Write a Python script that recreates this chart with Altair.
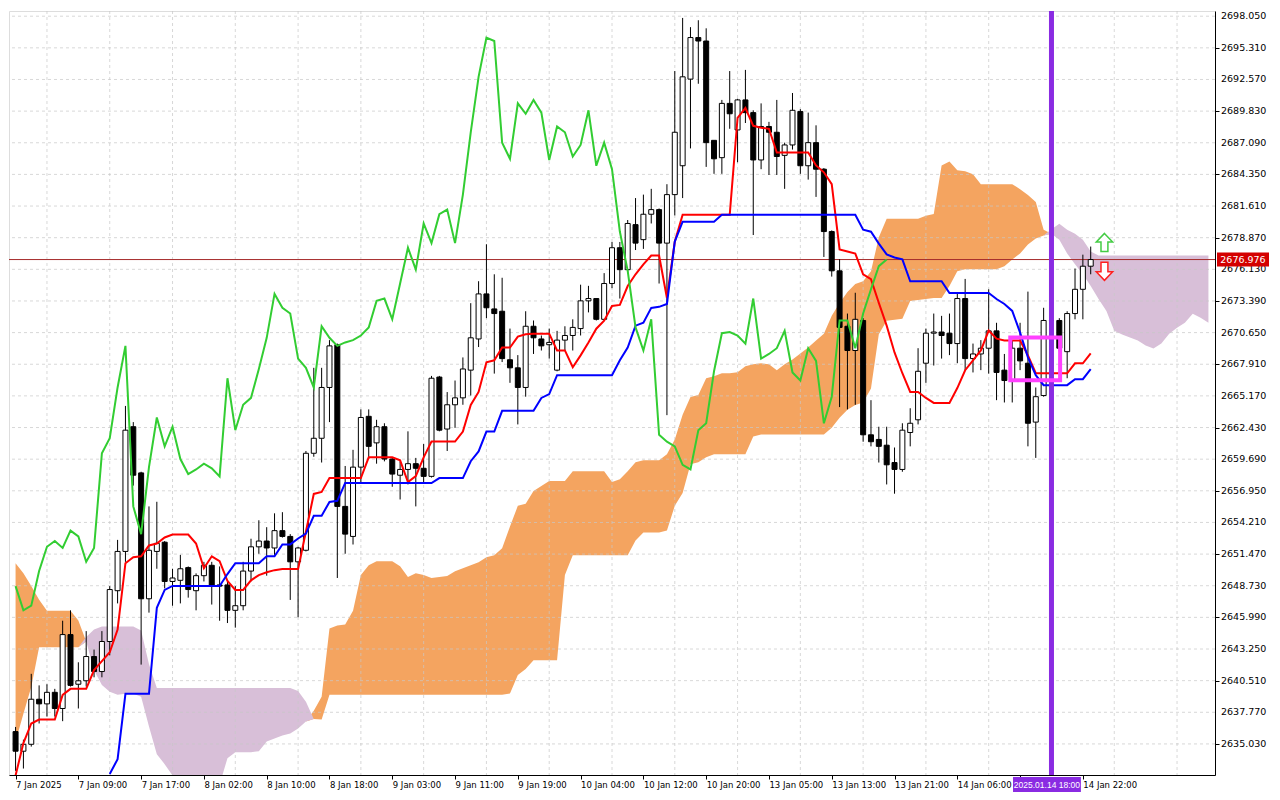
import altair as alt
import pandas as pd

# ---------------- data ----------------
OPEN = [2636.1, 2634.4, 2635.0, 2638.9, 2638.5, 2639.5, 2638.1, 2644.5, 2640.2, 2640.5,
        2642.6, 2641.3, 2643.9, 2648.3, 2651.7, 2662.5, 2658.5, 2647.6, 2651.7, 2652.5,
        2649.1, 2649.2, 2650.3, 2648.3, 2649.6, 2650.5, 2648.8, 2648.8, 2646.6, 2647.0,
        2650.0, 2652.1, 2652.6, 2652.0, 2653.5, 2653.0, 2650.8, 2651.8, 2660.2, 2661.5,
        2665.9, 2669.6, 2655.6, 2653.0, 2659.0, 2663.4, 2661.1, 2662.5, 2659.7, 2658.3,
        2658.8, 2659.3, 2658.9, 2658.2, 2666.8, 2662.3, 2664.4, 2665.0, 2667.4, 2670.1,
        2674.0, 2672.7, 2672.5, 2668.3, 2667.6, 2665.9, 2671.2, 2670.1, 2669.6, 2667.4,
        2670.0, 2670.4, 2671.0, 2673.4, 2673.6, 2671.8, 2674.9, 2678.0, 2676.1, 2680.0,
        2678.7, 2680.9, 2681.3, 2678.4, 2682.6, 2685.1, 2692.6, 2696.2, 2695.9, 2687.3,
        2685.8, 2690.5, 2688.2, 2690.8, 2689.7, 2685.6, 2688.5, 2688.0, 2686.0, 2686.9,
        2689.8, 2685.1, 2687.1, 2684.8, 2679.4, 2676.0, 2671.2, 2669.1, 2671.7, 2661.8,
        2661.4, 2660.9, 2659.4, 2658.8, 2662.0, 2663.1, 2668.0, 2670.6, 2670.7, 2670.6,
        2669.7, 2673.6, 2668.4, 2668.8, 2669.3, 2670.8, 2667.4, 2666.5, 2669.3, 2668.0,
        2662.9, 2665.2, 2671.7, 2671.7, 2669.0, 2672.3, 2674.4, 2676.4]
HIGH = [2636.5, 2635.4, 2641.1, 2640.1, 2640.2, 2639.8, 2645.7, 2646.6, 2642.1, 2644.8,
        2643.2, 2644.8, 2648.7, 2652.7, 2664.3, 2662.9, 2658.6, 2655.6, 2656.0, 2652.6,
        2650.2, 2651.4, 2650.4, 2649.8, 2650.8, 2650.8, 2650.4, 2649.1, 2648.7, 2650.8,
        2652.8, 2654.4, 2653.8, 2655.0, 2655.1, 2653.2, 2652.1, 2660.4, 2667.6, 2667.6,
        2670.0, 2669.7, 2659.1, 2660.5, 2664.0, 2664.0, 2663.1, 2662.8, 2659.8, 2659.5,
        2662.1, 2659.8, 2661.0, 2666.9, 2666.9, 2665.5, 2666.5, 2668.5, 2673.2, 2675.1,
        2678.3, 2675.7, 2675.4, 2671.0, 2668.7, 2672.5, 2671.7, 2670.4, 2671.0, 2670.8,
        2671.2, 2671.8, 2674.8, 2674.7, 2673.6, 2675.8, 2678.5, 2678.5, 2680.4, 2682.3,
        2682.6, 2683.1, 2681.4, 2683.5, 2693.3, 2697.9, 2697.1, 2697.7, 2697.0, 2687.3,
        2690.8, 2693.3, 2690.9, 2693.4, 2689.9, 2690.5, 2688.9, 2690.8, 2687.1, 2691.4,
        2690.0, 2689.7, 2688.6, 2684.9, 2679.5, 2677.0, 2672.3, 2674.1, 2671.9, 2664.8,
        2662.5, 2662.5, 2660.7, 2662.8, 2664.1, 2669.3, 2671.0, 2672.3, 2672.1, 2672.3,
        2674.1, 2675.3, 2669.7, 2670.0, 2674.4, 2671.5, 2668.8, 2670.0, 2671.5, 2674.2,
        2665.9, 2672.8, 2672.6, 2671.9, 2672.5, 2676.2, 2677.4, 2678.1]
LOW = [2632.7, 2632.9, 2634.8, 2636.8, 2637.4, 2637.4, 2637.0, 2640.0, 2638.1, 2640.0,
       2640.8, 2640.8, 2642.7, 2647.2, 2650.8, 2657.4, 2641.9, 2646.4, 2650.2, 2648.5,
       2647.0, 2647.2, 2647.7, 2646.6, 2649.1, 2647.1, 2645.7, 2645.5, 2645.1, 2646.6,
       2649.1, 2651.5, 2649.6, 2651.4, 2652.9, 2647.5, 2646.0, 2651.7, 2659.9, 2659.4,
       2662.9, 2649.4, 2651.5, 2652.3, 2657.7, 2659.7, 2659.3, 2659.5, 2657.3, 2656.2,
       2657.5, 2655.6, 2657.7, 2658.1, 2662.1, 2660.4, 2662.4, 2664.4, 2665.2, 2669.4,
       2671.9, 2667.1, 2668.1, 2666.3, 2662.7, 2665.1, 2668.8, 2669.1, 2668.4, 2667.3,
       2669.1, 2669.1, 2670.4, 2672.4, 2671.7, 2671.7, 2674.5, 2673.6, 2675.8, 2677.8,
       2677.9, 2680.1, 2674.9, 2663.5, 2680.8, 2682.3, 2686.6, 2692.2, 2685.0, 2684.4,
       2684.4, 2688.3, 2685.4, 2688.8, 2679.1, 2684.8, 2684.3, 2684.3, 2683.1, 2686.5,
       2684.4, 2683.9, 2682.4, 2677.2, 2675.5, 2664.2, 2664.0, 2664.4, 2661.2, 2660.8,
       2659.4, 2657.5, 2656.7, 2658.6, 2660.8, 2662.7, 2666.3, 2667.8, 2668.4, 2668.7,
       2668.0, 2667.4, 2667.2, 2667.4, 2667.1, 2664.8, 2664.6, 2664.6, 2667.4, 2660.8,
       2659.8, 2665.1, 2670.4, 2669.0, 2666.7, 2671.8, 2671.8, 2675.7]
CLOSE = [2634.4, 2635.0, 2638.9, 2638.5, 2639.5, 2638.1, 2644.5, 2640.1, 2640.5, 2642.6,
         2641.3, 2643.9, 2648.4, 2651.7, 2662.2, 2658.3, 2647.6, 2651.8, 2652.4, 2649.1,
         2649.4, 2650.2, 2648.4, 2649.6, 2650.5, 2648.7, 2648.7, 2646.6, 2647.0, 2650.0,
         2652.1, 2652.6, 2652.0, 2653.5, 2653.0, 2650.8, 2652.0, 2660.2, 2661.5, 2665.9,
         2669.5, 2655.6, 2653.2, 2659.0, 2663.3, 2660.8, 2662.5, 2659.7, 2658.4, 2658.8,
         2659.3, 2658.9, 2658.2, 2666.7, 2662.2, 2664.4, 2665.0, 2667.5, 2670.2, 2674.0,
         2672.8, 2672.3, 2668.4, 2667.6, 2665.9, 2671.2, 2670.2, 2669.5, 2669.8, 2670.0,
         2670.4, 2671.1, 2673.4, 2673.6, 2671.8, 2674.9, 2678.0, 2676.1, 2680.1, 2678.4,
         2680.9, 2681.3, 2678.4, 2682.6, 2688.0, 2692.8, 2696.2, 2695.9, 2687.1, 2685.7,
         2690.5, 2689.6, 2690.8, 2689.7, 2685.6, 2688.5, 2688.0, 2685.9, 2686.9, 2689.9,
         2685.1, 2687.1, 2684.8, 2679.4, 2676.0, 2671.1, 2669.1, 2671.8, 2661.8, 2661.2,
         2660.8, 2659.2, 2658.8, 2662.2, 2662.8, 2667.3, 2670.6, 2670.7, 2670.4, 2669.7,
         2673.6, 2668.4, 2668.8, 2669.3, 2670.8, 2667.2, 2666.5, 2669.3, 2668.2, 2662.8,
         2665.1, 2671.7, 2671.7, 2669.3, 2672.3, 2674.4, 2676.4, 2676.976]

TENKAN = [2632.3, 2635.1, 2636.8, 2637.14, 2637.14, 2637.14, 2639.28, 2639.8, 2639.8, 2639.8,
          2641.42, 2642.2, 2642.97, 2644.94, 2650.68, 2651.19, 2651.28, 2652.22, 2652.39, 2652.91,
          2653.16, 2653.16, 2653.16, 2652.39, 2650.25, 2651.28, 2650.85, 2649.14, 2648.37, 2648.37,
          2649.2, 2649.65, 2649.9, 2650.08, 2650.17, 2650.17, 2650.17, 2653.42, 2656.68, 2656.85,
          2658.05, 2658.05, 2658.05, 2658.05, 2658.05, 2659.85, 2659.85, 2659.85, 2659.85, 2659.59,
          2657.71, 2658.22, 2659.85, 2661.22, 2661.22, 2661.22, 2661.22, 2662.08, 2664.39, 2665.51,
          2668.08, 2668.25, 2669.36, 2669.36, 2670.3, 2670.5, 2670.56, 2670.56, 2670.56, 2669.11,
          2669.11, 2667.65, 2668.68, 2669.79, 2670.99, 2671.68, 2672.96, 2673.05, 2674.68, 2675.7,
          2676.56, 2677.33, 2677.33, 2673.65, 2678.53, 2680.85, 2680.85, 2680.85, 2680.85, 2680.85,
          2680.85, 2680.85, 2689.24, 2690.1, 2688.56, 2688.39, 2688.3, 2686.25, 2686.25, 2686.25,
          2686.25, 2686.25, 2685.13, 2684.53, 2683.5, 2677.85, 2677.68, 2677.5, 2675.7, 2675.27,
          2673.22, 2671.25, 2668.93, 2667.13, 2665.51, 2665.51, 2664.99, 2664.56, 2664.56, 2664.56,
          2665.85, 2667.39, 2668.25, 2669.11, 2670.82, 2670.13, 2669.96, 2669.96, 2669.96, 2668.68,
          2667.13, 2667.13, 2667.13, 2667.13, 2667.13, 2667.99, 2667.99, 2668.85]
KIJUN = [None, None, None, None, None, None, None, None, None, None,
         None, None, 2632.43, 2633.71, 2639.37, 2639.37, 2639.37, 2639.37, 2646.82, 2648.37,
         2648.71, 2648.71, 2648.71, 2648.71, 2648.71, 2648.71, 2648.71, 2649.74, 2650.68, 2650.68,
         2650.68, 2650.68, 2651.28, 2651.28, 2652.31, 2652.31, 2652.82, 2653.25, 2654.79, 2654.79,
         2655.99, 2656.08, 2657.62, 2657.62, 2657.62, 2657.62, 2657.62, 2657.62, 2657.62, 2657.62,
         2657.62, 2657.62, 2657.62, 2657.62, 2658.05, 2658.05, 2658.05, 2658.05, 2659.51, 2660.36,
         2662.08, 2662.08, 2663.88, 2663.88, 2663.88, 2663.88, 2663.88, 2664.99, 2665.33, 2666.96,
         2666.96, 2666.96, 2666.96, 2666.96, 2666.96, 2666.96, 2666.96, 2668.25, 2669.36, 2671.25,
         2671.51, 2672.79, 2672.88, 2673.13, 2678.53, 2680.25, 2680.25, 2680.25, 2680.25, 2680.25,
         2680.85, 2680.85, 2680.85, 2680.85, 2680.85, 2680.85, 2680.85, 2680.85, 2680.85, 2680.85,
         2680.85, 2680.85, 2680.85, 2680.85, 2680.85, 2680.85, 2680.85, 2680.85, 2679.56, 2679.39,
         2678.36, 2677.42, 2677.16, 2676.99, 2675.1, 2675.1, 2675.1, 2675.1, 2675.1, 2674.08,
         2674.08, 2674.08, 2674.08, 2674.08, 2674.08, 2673.56, 2673.13, 2672.53, 2670.65, 2668.51,
         2666.96, 2666.1, 2666.1, 2666.1, 2666.1, 2666.62, 2666.62, 2667.48]

SENKOU_A = [2650.68, 2649.82, 2648.71, 2647.51, 2646.57, 2646.57, 2646.57, 2646.57, 2645.71, 2643.9,
            2641.42, 2640.14, 2639.54, 2639.28, 2639.37, 2639.37, 2639.11, 2636.54, 2634.14, 2633.28,
            2632.3, 2631.5, 2631.5, 2631.5, 2631.5, 2631.5, 2631.5, 2633.8, 2634.31, 2634.31,
            2634.31, 2634.4, 2635.25, 2635.51, 2635.77, 2635.94, 2636.37, 2636.97, 2637.9, 2639.11,
            2645.02, 2645.28, 2645.37, 2646.57, 2649.65, 2650.51, 2650.85, 2650.85, 2650.85, 2650.42,
            2649.48, 2649.82, 2649.65, 2649.39, 2649.48, 2649.57, 2649.99, 2650.25, 2650.51, 2650.77,
            2651.19, 2651.36, 2651.97, 2653.85, 2655.65, 2655.82, 2656.94, 2657.36, 2657.79, 2657.79,
            2657.79, 2658.65, 2658.65, 2658.65, 2658.65, 2658.65, 2657.71, 2657.96, 2658.65, 2659.42,
            2659.59, 2659.59, 2659.59, 2660.11, 2661.39, 2663.53, 2665.08, 2665.25, 2666.7, 2666.88,
            2667.13, 2667.13, 2667.22, 2667.73, 2667.91, 2667.99, 2667.91, 2667.39, 2667.91, 2668.33,
            2668.85, 2669.36, 2669.96, 2670.56, 2672.11, 2673.22, 2674.16, 2674.85, 2675.1, 2675.96,
            2678.9, 2680.5, 2680.5, 2680.5, 2680.5, 2680.5, 2680.76, 2680.93, 2685.13, 2685.47,
            2684.7, 2684.62, 2684.36, 2683.5, 2683.5, 2683.5, 2683.5, 2683.5, 2683.07, 2682.56,
            2681.96, 2679.56, 2679.2, 2678.7, 2677.5, 2676.56, 2675.7, 2674.68, 2673.56, 2672.53,
            2670.82, 2670.48, 2670.22, 2669.96, 2669.53, 2669.28, 2669.7, 2670.56, 2671.08, 2671.51,
            2672.28, 2671.93, 2671.51]
SENKOU_B = [2635.25, 2637.65, 2639.97, 2643.4, 2643.4, 2643.4, 2643.4, 2643.4, 2643.4, 2644.3,
            2644.94, 2645.19, 2645.19, 2645.19, 2645.19, 2645.19, 2644.85, 2641.94, 2639.88, 2639.88,
            2639.88, 2639.88, 2639.88, 2639.88, 2639.88, 2639.88, 2639.88, 2639.88, 2639.88, 2639.88,
            2639.88, 2639.88, 2639.88, 2639.88, 2639.88, 2639.88, 2639.62, 2638.68, 2637.2, 2637.14,
            2639.28, 2639.28, 2639.28, 2639.28, 2639.28, 2639.28, 2639.28, 2639.28, 2639.28, 2639.28,
            2639.28, 2639.28, 2639.28, 2639.28, 2639.28, 2639.28, 2639.28, 2639.28, 2639.28, 2639.28,
            2639.28, 2639.28, 2639.28, 2639.4, 2641.0, 2641.51, 2642.28, 2642.28, 2642.28, 2642.28,
            2649.65, 2651.36, 2651.36, 2651.36, 2651.36, 2651.36, 2651.36, 2651.36, 2651.36, 2652.65,
            2653.34, 2653.34, 2653.34, 2653.51, 2655.65, 2656.77, 2659.25, 2659.42, 2659.85, 2660.11,
            2660.11, 2660.11, 2660.11, 2660.11, 2661.65, 2661.82, 2661.82, 2661.82, 2661.82, 2661.82,
            2661.82, 2661.82, 2661.82, 2661.82, 2662.42, 2663.28, 2663.96, 2664.39, 2664.6, 2665.8,
            2670.5, 2671.68, 2671.76, 2671.85, 2673.39, 2673.48, 2673.56, 2673.65, 2673.65, 2674.68,
            2675.96, 2676.13, 2676.13, 2676.13, 2676.13, 2676.13, 2676.39, 2676.99, 2677.5, 2678.28,
            2678.79, 2679.05, 2679.6, 2680.07, 2679.56, 2679.22, 2678.7, 2677.68, 2677.33, 2677.33,
            2677.33, 2677.33, 2677.33, 2677.33, 2677.33, 2677.33, 2677.33, 2677.33, 2677.33, 2677.33,
            2677.33, 2677.33, 2677.33]

CHIKOU_SHIFT = 26

X_TICK_BARS = [0, 8, 16, 24, 32, 40, 48, 56, 64, 72, 80, 88, 96, 104, 112, 120, 128, 136]
X_TICK_LABELS = ["7 Jan 2025", "7 Jan 09:00", "7 Jan 17:00", "8 Jan 02:00", "8 Jan 10:00",
                 "8 Jan 18:00", "9 Jan 03:00", "9 Jan 11:00", "9 Jan 19:00", "10 Jan 04:00",
                 "10 Jan 12:00", "10 Jan 20:00", "13 Jan 05:00", "13 Jan 13:00", "13 Jan 21:00",
                 "14 Jan 06:00", "", "14 Jan 22:00"]
GRID_BARS = [4, 12, 20, 28, 36, 44, 52, 60, 68, 76, 84, 92, 100, 108, 116, 124, 132, 140, 148]
Y_TICKS = [2635.03, 2637.77, 2640.51, 2643.25, 2645.99, 2648.73, 2651.47, 2654.21, 2656.95,
           2659.69, 2662.43, 2665.17, 2667.91, 2670.65, 2673.39, 2676.13, 2678.87, 2681.61,
           2684.35, 2687.09, 2689.83, 2692.57, 2695.31, 2698.05]

LAST_PRICE = 2676.976
LAST_PRICE_TEXT = "2676.976"
MARKER_BAR = 132
MARKER_LABEL = "2025.01.14 18:00"
MARKER_LABEL_BARS = [127.1, 135.75, 131.42]
BOX_BARS = [126.75, 133.1]
BOX_PRICES = [2670.22, 2666.53]
ARROW_BAR = 138.75
ARROW_UP_PRICE = 2678.45
ARROW_DOWN_PRICE = 2675.96

X_DOMAIN = [-0.2, 152.2]
Y_DOMAIN = [2632.34, 2698.5]

# ---------------- layout / styles ----------------
W, H = 1206, 764
FONT = "DejaVu Sans"
FS_X = 8.5
FS_Y = 9.5
ORANGE = "#F4A460"
THISTLE = "#D8BFD8"
UP_PATH = "M0,-1L0.9,-0.05L0.38,-0.05L0.38,1L-0.38,1L-0.38,-0.05L-0.9,-0.05Z"
DN_PATH = "M0,1L0.9,0.05L0.38,0.05L0.38,-1L-0.38,-1L-0.38,0.05L-0.9,0.05Z"

n = len(CLOSE)
candles = pd.DataFrame({"bar": list(range(n)), "open": OPEN, "high": HIGH, "low": LOW,
                        "close": CLOSE, "tenkan": TENKAN, "kijun": KIJUN})
cloud = pd.DataFrame({"bar": list(range(len(SENKOU_A))), "a": SENKOU_A, "b": SENKOU_B})
chikou = pd.DataFrame({"bar": [i - CHIKOU_SHIFT for i in range(CHIKOU_SHIFT, n)],
                       "price": CLOSE[CHIKOU_SHIFT:]})
grid_x = pd.DataFrame({"g": GRID_BARS})
grid_y = pd.DataFrame({"g": Y_TICKS})
one = pd.DataFrame({"k": [0]})

xs = alt.Scale(domain=X_DOMAIN, nice=False, zero=False)
ys = alt.Scale(domain=Y_DOMAIN, nice=False, zero=False)


def X(field):
    return alt.X(field, type="quantitative", scale=xs, title=None)


def Y(field):
    return alt.Y(field, type="quantitative", scale=ys, title=None)


label_expr = ("[" + ",".join("'" + s + "'" for s in X_TICK_LABELS) + "][indexof(["
              + ",".join(str(v) for v in X_TICK_BARS) + "], datum.value)]")

x_axis = alt.Axis(values=X_TICK_BARS, labelExpr=label_expr, grid=False, title=None,
                  tickSize=4, tickColor="black", domainColor="black", labelAlign="left",
                  labelPadding=1, labelFont=FONT, labelFontSize=FS_X, labelColor="black",
                  labelOverlap=False, labelFlush=False, labelBound=False, orient="bottom")
y_axis = alt.Axis(values=Y_TICKS, labels=False, grid=False, title=None, orient="right",
                  tickSize=4, tickColor="black", domainColor="black")

bodies = alt.Chart(candles).mark_bar(size=5, stroke="black", strokeWidth=1, clip=True).encode(
    x=alt.X("bar:Q", scale=xs, axis=x_axis),
    y=alt.Y("open:Q", scale=ys, axis=y_axis),
    y2="close:Q",
    fill=alt.condition("datum.close >= datum.open", alt.value("white"), alt.value("black")),
)

cloud_base = alt.Chart(cloud).transform_calculate(lo="min(datum.a, datum.b)")
cloud_orange = cloud_base.mark_area(color=ORANGE, opacity=1, clip=True).encode(
    x=X("bar"), y=Y("a"), y2="lo:Q")
cloud_thistle = cloud_base.mark_area(color=THISTLE, opacity=1, clip=True).encode(
    x=X("bar"), y=Y("b"), y2="lo:Q")

vgrid = alt.Chart(grid_x).mark_rule(color="#C8C8C8", strokeDash=[3, 3], strokeWidth=1,
                                    opacity=0.7).encode(x=X("g"))
hgrid = alt.Chart(grid_y).mark_rule(color="#C8C8C8", strokeDash=[3, 3], strokeWidth=1,
                                    opacity=0.7).encode(y=Y("g"))
y_labels = alt.Chart(grid_y).mark_text(align="left", baseline="middle", font=FONT,
                                       fontSize=FS_Y, color="black").encode(
    y=Y("g"), x=alt.value(W + 6), text=alt.Text("g:Q", format=".3f"))

price_line = alt.Chart(one).mark_rule(color="#A52A2A", strokeWidth=1).encode(
    y=alt.datum(LAST_PRICE, scale=ys, title=None))

wicks = alt.Chart(candles).mark_rule(color="black", strokeWidth=1, clip=True).encode(
    x=X("bar"), y=Y("low"), y2="high:Q")

tenkan = alt.Chart(candles).mark_line(color="#FF0000", strokeWidth=2, clip=True).encode(
    x=X("bar"), y=Y("tenkan"))
kijun = alt.Chart(candles).transform_filter("isValid(datum.kijun)").mark_line(
    color="#0000FF", strokeWidth=2, clip=True).encode(x=X("bar"), y=Y("kijun"))
chikou_line = alt.Chart(chikou).mark_line(color="#32CD32", strokeWidth=2, clip=True).encode(
    x=X("bar"), y=Y("price"))

vline = alt.Chart(one).mark_rule(color="#8A2BE2", strokeWidth=5).encode(
    x=alt.datum(MARKER_BAR, scale=xs, title=None))

box = alt.Chart(one).mark_rect(filled=False, color="#FF40FF", strokeWidth=4).encode(
    x=alt.datum(BOX_BARS[0], scale=xs, title=None), x2=alt.datum(BOX_BARS[1]),
    y=alt.datum(BOX_PRICES[0], scale=ys, title=None), y2=alt.datum(BOX_PRICES[1]))

up_arrow = alt.Chart(one).mark_point(shape=UP_PATH, size=330, filled=True, fill="white",
                                     stroke="#44CC44", strokeWidth=1.5, opacity=1).encode(
    x=alt.datum(ARROW_BAR, scale=xs, title=None), y=alt.datum(ARROW_UP_PRICE, scale=ys, title=None))
dn_arrow = alt.Chart(one).mark_point(shape=DN_PATH, size=330, filled=True, fill="white",
                                     stroke="#FF2020", strokeWidth=1.5, opacity=1).encode(
    x=alt.datum(ARROW_BAR, scale=xs, title=None), y=alt.datum(ARROW_DOWN_PRICE, scale=ys, title=None))

price_box = alt.Chart(one).mark_tick(color="#D40000", thickness=14, size=52,
                                     opacity=1).encode(
    y=alt.datum(LAST_PRICE, scale=ys, title=None), x=alt.value(W + 28))
price_txt = alt.Chart(one).mark_text(color="white", font=FONT, fontSize=FS_Y,
                                     align="center", baseline="middle").encode(
    y=alt.datum(LAST_PRICE, scale=ys, title=None), x=alt.value(W + 28),
    text=alt.value(LAST_PRICE_TEXT))

date_box = alt.Chart(one).mark_rect(color="#8A2BE2").encode(
    x=alt.datum(MARKER_LABEL_BARS[0], scale=xs, title=None), x2=alt.datum(MARKER_LABEL_BARS[1]),
    y=alt.value(H + 2), y2=alt.value(H + 17))
date_txt = alt.Chart(one).mark_text(color="white", font="Liberation Sans", fontSize=8.5,
                                    align="center", baseline="middle").encode(
    x=alt.datum(MARKER_LABEL_BARS[2], scale=xs, title=None), y=alt.value(H + 10),
    text=alt.value(MARKER_LABEL))

chart = alt.layer(
    bodies.mark_bar(size=0.01, opacity=0, clip=True),
    cloud_orange, cloud_thistle, vgrid, hgrid, price_line,
    wicks, bodies, tenkan, kijun, chikou_line,
    vline, box, up_arrow, dn_arrow, y_labels, price_box, price_txt, date_box, date_txt,
).properties(width=W, height=H, padding=0).configure_view(
    stroke="black", strokeWidth=1
).configure_axis(
    labelOverlap=False, labelBound=False, labelFlush=False
).configure(background="white")

chart.save("out.html", embed_options={"renderer": "svg", "actions": False})
